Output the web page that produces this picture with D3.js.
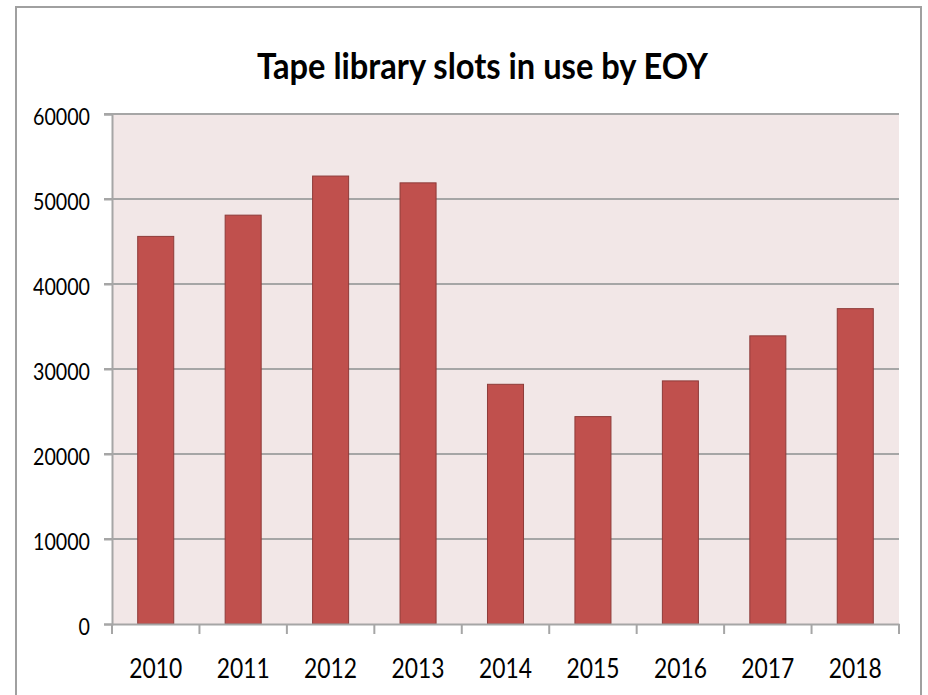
<!DOCTYPE html>
<html>
<head>
<meta charset="utf-8">
<script src="https://cdn.jsdelivr.net/npm/d3@7"></script>
<style>
  html, body { margin: 0; padding: 0; background: #fff; }
  svg { display: block; }
  text { font-family: Lato, "Open Sans", sans-serif; fill: #000; }
</style>
</head>
<body>
<svg id="chart" width="928" height="695"></svg>
<script>
const title = "Tape library slots in use by EOY";
const years = ["2010","2011","2012","2013","2014","2015","2016","2017","2018"];
const slots = [45600, 48100, 52700, 51900, 28200, 24400, 28600, 33900, 37100];
const yTicks = [0, 10000, 20000, 30000, 40000, 50000, 60000];

const svg = d3.select("#chart");

// outer chart border
svg.append("rect")
  .attr("x", 16).attr("y", 7)
  .attr("width", 905).attr("height", 700)
  .attr("fill", "#fff").attr("stroke", "#a0a0a0").attr("stroke-width", 2);

const plot = {left: 112, right: 899, top: 114, bottom: 624};

const x = d3.scaleBand().domain(years)
  .range([plot.left, plot.right])
  .paddingInner(0.588).paddingOuter(0.294);
const y = d3.scaleLinear().domain([0, 60000]).range([plot.bottom, plot.top]);

// plot background
svg.append("rect")
  .attr("x", plot.left).attr("y", plot.top)
  .attr("width", plot.right - plot.left).attr("height", plot.bottom - plot.top)
  .attr("fill", "#f2e7e7");

// gridlines
svg.append("g").selectAll("line").data(yTicks.filter(d => d > 0)).join("line")
  .attr("x1", plot.left - 8).attr("x2", plot.right)
  .attr("y1", d => y(d)).attr("y2", d => y(d))
  .attr("stroke", "#a6a6a6").attr("stroke-width", 2);

// bars
svg.append("g").selectAll("rect").data(years).join("rect")
  .attr("x", (d) => x(d))
  .attr("y", (d, i) => y(slots[i]))
  .attr("width", x.bandwidth())
  .attr("height", (d, i) => y(0) - y(slots[i]))
  .attr("fill", "#c0504d")
  .attr("stroke", "#8e3b39").attr("stroke-width", 1);

// y axis
const yAxis = svg.append("g")
  .attr("transform", `translate(${plot.left},0)`)
  .call(d3.axisLeft(y).tickValues(yTicks).tickFormat(d3.format("d")).tickSize(8).tickPadding(14));
yAxis.select(".domain").attr("stroke", "#a6a6a6").attr("stroke-width", 2);
yAxis.selectAll(".tick line").attr("stroke", "#a6a6a6").attr("stroke-width", 2);
yAxis.selectAll(".tick text")
  .attr("font-size", 24).attr("font-family", "Lato, sans-serif").attr("fill", "#000")
  .attr("dy", "0.42em")
  .attr("textLength", function(d) { return String(d).length * 11.4; })
  .attr("lengthAdjust", "spacingAndGlyphs")
  .attr("x", -22);

// x axis
const xAxis = svg.append("g")
  .attr("transform", `translate(0,${plot.bottom})`)
  .call(d3.axisBottom(x).tickSize(0).tickPadding(36));
xAxis.select(".domain").attr("stroke", "#a6a6a6").attr("stroke-width", 2);
xAxis.selectAll(".tick text")
  .attr("font-size", 27).attr("font-family", "Lato, sans-serif").attr("fill", "#000")
  .attr("dy", "0.68em")
  .attr("textLength", 53)
  .attr("lengthAdjust", "spacingAndGlyphs");

// x boundary ticks between categories
const bounds = years.map((d, i) => plot.left + i * x.step());
bounds.push(plot.right);
svg.append("g").selectAll("line").data(bounds).join("line")
  .attr("x1", d => d).attr("x2", d => d)
  .attr("y1", plot.bottom).attr("y2", plot.bottom + 10)
  .attr("stroke", "#a6a6a6").attr("stroke-width", 2);

// title
svg.append("text")
  .attr("x", 257).attr("y", 79)
  .attr("font-size", 36).attr("font-weight", "bold")
  .attr("textLength", 451).attr("lengthAdjust", "spacingAndGlyphs")
  .text(title);
</script>
</body>
</html>
